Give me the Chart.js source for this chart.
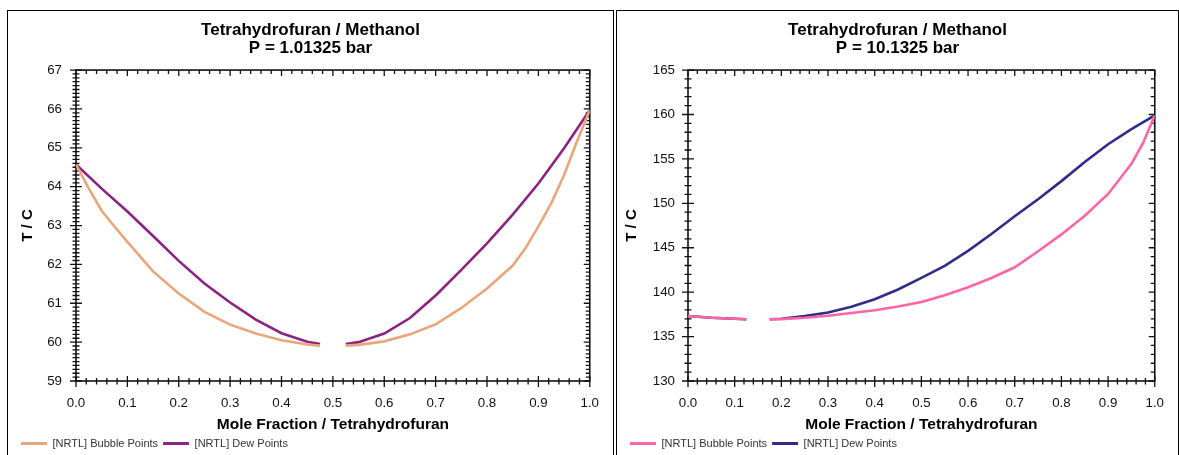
<!DOCTYPE html>
<html><head><meta charset="utf-8">
<script src="https://cdn.jsdelivr.net/npm/chart.js@4/dist/chart.umd.min.js"></script>
<style>
html,body{margin:0;padding:0;background:#fff;}
body{width:1179px;height:455px;overflow:hidden;position:relative;}
.panel{position:absolute;top:10px;border:1px solid #000;height:470px;background:#fff;}
#p1{left:7px;width:605px;}
#p2{left:616px;width:561px;}
canvas{display:block;}
</style></head><body>
<div class="panel" id="p1"><canvas id="c1" width="605" height="448"></canvas></div>
<div class="panel" id="p2"><canvas id="c2" width="561" height="448"></canvas></div>
<script>
// ---------- DATA ----------
const chartTitle = 'Tetrahydrofuran / Methanol';
const pressure1 = 'P = 1.01325 bar';
const pressure2 = 'P = 10.1325 bar';
const xAxisTitle = 'Mole Fraction / Tetrahydrofuran';
const yAxisTitle = 'T / C';
const bubbleLabel = '[NRTL] Bubble Points';
const dewLabel = '[NRTL] Dew Points';

const xTickValues = [0.0, 0.1, 0.2, 0.3, 0.4, 0.5, 0.6, 0.7, 0.8, 0.9, 1.0];
const y1TickValues = [59, 60, 61, 62, 63, 64, 65, 66, 67];
const y2TickValues = [130, 135, 140, 145, 150, 155, 160, 165];

// P = 1.01325 bar
const x1Bubble = [0, 0.025, 0.05, 0.075, 0.1, 0.15, 0.2, 0.25, 0.3, 0.35, 0.4, 0.45, 0.475, 0.5, 0.525, 0.55, 0.6, 0.65, 0.7, 0.75, 0.8, 0.85, 0.875, 0.9, 0.925, 0.95, 0.975, 1.0];
const t1Bubble = [64.57, 63.95, 63.38, 62.97, 62.58, 61.82, 61.25, 60.78, 60.45, 60.22, 60.05, 59.94, 59.91, null, 59.91, 59.93, 60.02, 60.2, 60.46, 60.88, 61.38, 61.97, 62.42, 62.98, 63.57, 64.3, 65.16, 65.97];
const x1Dew = [0, 0.05, 0.1, 0.15, 0.2, 0.25, 0.3, 0.35, 0.4, 0.45, 0.475, 0.5, 0.525, 0.55, 0.6, 0.65, 0.7, 0.75, 0.8, 0.85, 0.9, 0.95, 1.0];
const t1Dew = [64.57, 63.95, 63.36, 62.73, 62.09, 61.51, 61.02, 60.58, 60.23, 60.01, 59.95, null, 59.95, 60.0, 60.22, 60.62, 61.2, 61.86, 62.54, 63.28, 64.08, 64.99, 65.97];

// P = 10.1325 bar
const x2Bubble = [0, 0.05, 0.1, 0.125, 0.15, 0.175, 0.2, 0.25, 0.3, 0.35, 0.4, 0.45, 0.5, 0.55, 0.6, 0.65, 0.7, 0.75, 0.8, 0.85, 0.9, 0.95, 0.975, 1.0];
const t2Bubble = [137.32, 137.12, 137.0, 136.95, null, 136.95, 136.97, 137.12, 137.35, 137.65, 137.97, 138.38, 138.9, 139.65, 140.55, 141.6, 142.8, 144.6, 146.5, 148.6, 151.05, 154.45, 156.8, 159.9];
const x2Dew = [0, 0.05, 0.1, 0.125, 0.15, 0.175, 0.2, 0.25, 0.3, 0.35, 0.4, 0.45, 0.5, 0.55, 0.6, 0.65, 0.7, 0.75, 0.8, 0.85, 0.9, 0.95, 1.0];
const t2Dew = [137.32, 137.12, 137.0, 136.95, null, 136.95, 137.0, 137.3, 137.7, 138.35, 139.2, 140.3, 141.6, 142.95, 144.65, 146.55, 148.55, 150.45, 152.5, 154.65, 156.65, 158.35, 159.9];

// ---------- RENDERING ----------
const FAMILY = '"Liberation Sans", Arial, Helvetica, sans-serif';
const toXY = (xs, ys) => xs.map((x, i) => ({x: x, y: ys[i]}));

const centerTitle = {
  id: 'centerTitle',
  afterLayout(chart) {
    const t = chart.titleBlock;
    if (t) { t.left = 0; t.right = chart.width; t.width = chart.width; }
  }
};

const axisFrame = {
  id: 'axisFrame',
  beforeDatasetsDraw(chart, args, opts) {
    const {ctx, chartArea: a, scales: {x, y}} = chart;
    ctx.save();
    ctx.strokeStyle = '#111';
    ctx.lineWidth = 1.6;
    ctx.strokeRect(a.left, a.top, a.right - a.left, a.bottom - a.top);
    ctx.lineWidth = 1.3;
    ctx.beginPath();
    const xs = x.ticks.map(t => t.value);
    for (let i = 0; i < xs.length; i++) {
      const px = x.getPixelForValue(xs[i]);
      ctx.moveTo(px, a.bottom - 5); ctx.lineTo(px, a.bottom + 6);
      ctx.moveTo(px, a.top); ctx.lineTo(px, a.top + 6);
      if (i < xs.length - 1) {
        const st = (xs[i + 1] - xs[i]) / opts.xMinor;
        for (let k = 1; k < opts.xMinor; k++) {
          const mp = x.getPixelForValue(xs[i] + k * st);
          ctx.moveTo(mp, a.bottom - 3); ctx.lineTo(mp, a.bottom + 3.5);
          ctx.moveTo(mp, a.top); ctx.lineTo(mp, a.top + 4);
        }
      }
    }
    const ys = y.ticks.map(t => t.value);
    for (let i = 0; i < ys.length; i++) {
      const py = y.getPixelForValue(ys[i]);
      ctx.moveTo(a.left - 6, py); ctx.lineTo(a.left + 6, py);
      ctx.moveTo(a.right, py); ctx.lineTo(a.right - 6, py);
      if (i < ys.length - 1) {
        const st = (ys[i + 1] - ys[i]) / opts.yMinor;
        for (let k = 1; k < opts.yMinor; k++) {
          const mp = y.getPixelForValue(ys[i] + k * st);
          ctx.moveTo(a.left - 3.5, mp); ctx.lineTo(a.left + 3.5, mp);
          ctx.moveTo(a.right, mp); ctx.lineTo(a.right - 4, mp);
        }
      }
    }
    ctx.stroke();
    ctx.restore();
  }
};

function makeChart(id, cfg) {
  return new Chart(document.getElementById(id), {
    type: 'line',
    data: {
      datasets: [
        {label: bubbleLabel, data: toXY(cfg.xb, cfg.tb), borderColor: cfg.cb, backgroundColor: cfg.cb,
         borderWidth: 2.6, pointRadius: 0, tension: 0, spanGaps: false, fill: false},
        {label: dewLabel, data: toXY(cfg.xd, cfg.td), borderColor: cfg.cd, backgroundColor: cfg.cd,
         borderWidth: 2.6, pointRadius: 0, tension: 0, spanGaps: false, fill: false}
      ]
    },
    options: {
      responsive: false, animation: false, devicePixelRatio: 1,
      events: [],
      layout: {padding: {left: 8, right: cfg.padRight, top: 0, bottom: 0}},
      plugins: {
        tooltip: {enabled: false},
        axisFrame: {xMinor: 5, yMinor: cfg.yMinor},
        title: {
          display: true, text: [chartTitle, cfg.pressure], color: '#000',
          font: {family: FAMILY, size: 17, weight: 'bold', lineHeight: 1.09},
          padding: {top: 10, bottom: 12}
        },
        legend: {
          position: 'bottom', align: 'start',
          labels: {
            boxWidth: 26, boxHeight: 3, padding: 5, color: '#333',
            font: {family: FAMILY, size: 11},
            generateLabels: (chart) => Chart.defaults.plugins.legend.labels.generateLabels(chart)
              .map(l => Object.assign(l, {lineWidth: 0, fillStyle: l.strokeStyle}))
          }
        }
      },
      scales: {
        x: {
          type: 'linear', min: 0, max: 1,
          afterBuildTicks: s => { s.ticks = xTickValues.map(v => ({value: v})); },
          afterFit: s => { s.height = 52; },
          ticks: {callback: v => Number(v).toFixed(1), color: '#111', padding: 14,
                  font: {family: FAMILY, size: 13.3}, maxRotation: 0, autoSkip: false},
          grid: {display: false, drawTicks: false},
          border: {display: false},
          title: {display: true, text: xAxisTitle, color: '#000',
                  font: {family: FAMILY, size: 15.5, weight: 'bold', lineHeight: 1.06},
                  padding: {top: 0, bottom: 0}}
        },
        y: {
          type: 'linear', min: cfg.yTicks[0], max: cfg.yTicks[cfg.yTicks.length - 1],
          afterBuildTicks: s => { s.ticks = cfg.yTicks.map(v => ({value: v})); },
          afterFit: s => { s.width = cfg.yWidth; },
          ticks: {callback: v => String(v), color: '#111', padding: cfg.yPad,
                  font: {family: FAMILY, size: 13.3}, autoSkip: false},
          grid: {display: false, drawTicks: false},
          border: {display: false},
          title: {display: true, text: yAxisTitle, color: '#000',
                  font: {family: FAMILY, size: 15, weight: 'bold', lineHeight: 1.1},
                  padding: {top: cfg.yTitlePad, bottom: 0}}
        }
      }
    },
    plugins: [axisFrame, centerTitle]
  });
}

makeChart('c1', {
  xb: x1Bubble, tb: t1Bubble, xd: x1Dew, td: t1Dew,
  cb: '#E8A67A', cd: '#8C2283', pressure: pressure1,
  yTicks: y1TickValues, yMinor: 10, yWidth: 60, yPad: 14, yTitlePad: 3.5, padRight: 21
});
makeChart('c2', {
  xb: x2Bubble, tb: t2Bubble, xd: x2Dew, td: t2Dew,
  cb: '#FF64A6', cd: '#2F2C8C', pressure: pressure2,
  yTicks: y2TickValues, yMinor: 5, yWidth: 63, yPad: 13, yTitlePad: -1.5, padRight: 15
});
</script>
</body></html>
